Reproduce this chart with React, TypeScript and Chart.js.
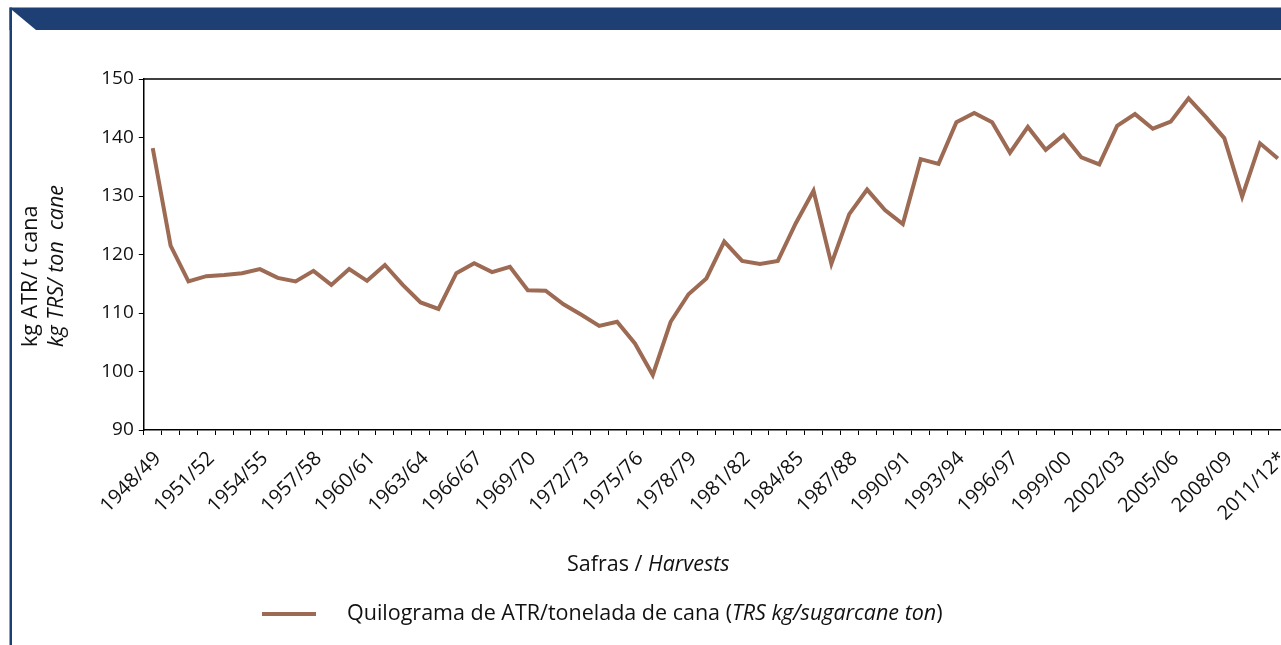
import React, { useEffect, useRef } from "react";
import { Chart, registerables } from "chart.js";

Chart.register(...registerables);

const harvests: string[] = [
  "1948/49", "1949/50", "1950/51", "1951/52", "1952/53", "1953/54", "1954/55", "1955/56",
  "1956/57", "1957/58", "1958/59", "1959/60", "1960/61", "1961/62", "1962/63", "1963/64",
  "1964/65", "1965/66", "1966/67", "1967/68", "1968/69", "1969/70", "1970/71", "1971/72",
  "1972/73", "1973/74", "1974/75", "1975/76", "1976/77", "1977/78", "1978/79", "1979/80",
  "1980/81", "1981/82", "1982/83", "1983/84", "1984/85", "1985/86", "1986/87", "1987/88",
  "1988/89", "1989/90", "1990/91", "1991/92", "1992/93", "1993/94", "1994/95", "1995/96",
  "1996/97", "1997/98", "1998/99", "1999/00", "2000/01", "2001/02", "2002/03", "2003/04",
  "2004/05", "2005/06", "2006/07", "2007/08", "2008/09", "2009/10", "2010/11", "2011/12*",
];

const atrPerTon: number[] = [
  138.2, 121.5, 115.4, 116.3, 116.5, 116.8, 117.5, 116.0,
  115.4, 117.2, 114.8, 117.5, 115.5, 118.2, 114.8, 111.8,
  110.7, 116.8, 118.5, 117.0, 117.9, 113.9, 113.8, 111.5,
  109.7, 107.8, 108.5, 104.8, 99.4, 108.5, 113.2, 115.9,
  122.2, 118.9, 118.4, 118.9, 125.3, 130.9, 118.4, 126.9,
  131.1, 127.6, 125.2, 136.3, 135.5, 142.6, 144.2, 142.6,
  137.4, 141.8, 137.9, 140.4, 136.6, 135.4, 142.0, 144.0,
  141.5, 142.7, 146.7, 143.4, 139.9, 129.9, 139.0, 136.4,
];

const yTicks: number[] = [90, 100, 110, 120, 130, 140, 150];
const tickEvery = 3;

const yTitle1 = "kg ATR/ t cana";
const yTitle2 = "kg TRS/ ton  cane";
const xTitleA = "Safras / ";
const xTitleB = "Harvests";
const legendA = "Quilograma de ATR/tonelada de cana (";
const legendB = "TRS kg/sugarcane ton";
const legendC = ")";

const FONT = "'Open Sans', 'Noto Sans', sans-serif";
const TITLE_SIZE = 21.5;
const LINE = "rgb(157,106,84)";
const NAVY = "rgb(29,63,115)";
const TXT = "#111111";
const W = 1330;
const H = 645;
const PLOT_RIGHT = 1286.8;

const decor = {
  id: "decor",
  beforeDraw(chart: any) {
    const ctx = chart.ctx;
    ctx.save();
    ctx.fillStyle = "#ffffff";
    ctx.fillRect(0, 0, W, H);
    ctx.fillStyle = NAVY;
    ctx.fillRect(9.5, 7.5, W, 22.5);
    ctx.fillRect(9.5, 7.5, 2.5, H);
    ctx.fillStyle = "#ffffff";
    ctx.beginPath();
    ctx.moveTo(12, 10);
    ctx.lineTo(12, 30);
    ctx.lineTo(36, 30);
    ctx.closePath();
    ctx.fill();
    ctx.restore();
  },
  afterDraw(chart: any) {
    const ctx = chart.ctx;
    const a = chart.chartArea;
    ctx.save();
    ctx.strokeStyle = "#000";
    ctx.lineWidth = 1.5;
    ctx.beginPath();
    ctx.moveTo(a.left, a.top);
    ctx.lineTo(a.right, a.top);
    ctx.lineTo(a.right, a.bottom);
    ctx.stroke();

    ctx.fillStyle = TXT;
    ctx.textBaseline = "middle";
    ctx.textAlign = "left";
    // y title
    ctx.save();
    ctx.translate(31, 347);
    ctx.rotate(-Math.PI / 2);
    ctx.font = `${TITLE_SIZE}px ${FONT}`;
    ctx.fillText(yTitle1, 0, 0);
    ctx.restore();
    ctx.save();
    ctx.translate(57, 347);
    ctx.rotate(-Math.PI / 2);
    ctx.font = `italic ${TITLE_SIZE}px ${FONT}`;
    ctx.fillText(yTitle2, 0, 0);
    ctx.restore();

    // x title
    let x = 567;
    ctx.font = `${TITLE_SIZE}px ${FONT}`;
    ctx.fillText(xTitleA, x, 565);
    x += ctx.measureText(xTitleA).width;
    ctx.font = `italic ${TITLE_SIZE}px ${FONT}`;
    ctx.fillText(xTitleB, x, 565);

    // legend
    ctx.strokeStyle = LINE;
    ctx.lineWidth = 4;
    ctx.beginPath();
    ctx.moveTo(262, 614);
    ctx.lineTo(316, 614);
    ctx.stroke();
    x = 347;
    ctx.font = `${TITLE_SIZE}px ${FONT}`;
    ctx.fillText(legendA, x, 614);
    x += ctx.measureText(legendA).width;
    ctx.font = `italic ${TITLE_SIZE}px ${FONT}`;
    ctx.fillText(legendB, x, 614);
    x += ctx.measureText(legendB).width;
    ctx.font = `${TITLE_SIZE}px ${FONT}`;
    ctx.fillText(legendC, x, 614);
    ctx.restore();
  },
};

export default function App() {
  const ref = useRef<HTMLCanvasElement | null>(null);
  useEffect(() => {
    if (!ref.current) return;
    const chart = new Chart(ref.current, {
      type: "line",
      data: {
        labels: harvests,
        datasets: [
          {
            label: "Quilograma de ATR/tonelada de cana (TRS kg/sugarcane ton)",
            data: atrPerTon,
            borderColor: LINE,
            backgroundColor: LINE,
            borderWidth: 4,
            pointRadius: 0,
            tension: 0,
            fill: false,
          },
        ],
      },
      options: {
        responsive: false,
        animation: false,
        devicePixelRatio: 1,
        layout: { padding: { left: 0, right: W - PLOT_RIGHT, top: 79, bottom: 0 } },
        plugins: { legend: { display: false }, tooltip: { enabled: false }, title: { display: false } },
        scales: {
          x: {
            type: "category",
            offset: true,
            grid: { display: true, drawOnChartArea: false, drawTicks: true, tickLength: 5, color: "#000", offset: true, lineWidth: 1 },
            border: { display: true, color: "#000", width: 1.5 },
            ticks: {
              autoSkip: false,
              maxRotation: 45,
              minRotation: 45,
              padding: 12,
              labelOffset: 5,
              color: TXT,
              font: { family: FONT, size: 20 },
              callback: (_v: any, i: number) => (i % tickEvery === 0 ? harvests[i] : ""),
            },
            afterFit: (s: any) => {
              s.height = H - 430;
            },
          },
          y: {
            min: yTicks[0],
            max: yTicks[yTicks.length - 1],
            afterBuildTicks: (s: any) => {
              s.ticks = yTicks.map((v) => ({ value: v }));
            },
            grid: { display: true, drawOnChartArea: false, drawTicks: true, tickLength: 5, color: "#000" },
            border: { display: true, color: "#000", width: 1.5 },
            ticks: { padding: 5, color: TXT, font: { family: FONT, size: 19 } },
            afterFit: (s: any) => {
              s.width = 143.8;
            },
          },
        },
      },
      plugins: [decor],
    });
    return () => chart.destroy();
  }, []);

  return (
    <div style={{ position: "fixed", left: 0, top: 0, width: "100vw", height: "100vh", overflow: "hidden", background: "#fff" }}>
      <canvas ref={ref} width={W} height={H} style={{ width: `${W}px`, height: `${H}px`, display: "block" }} />
    </div>
  );
}
